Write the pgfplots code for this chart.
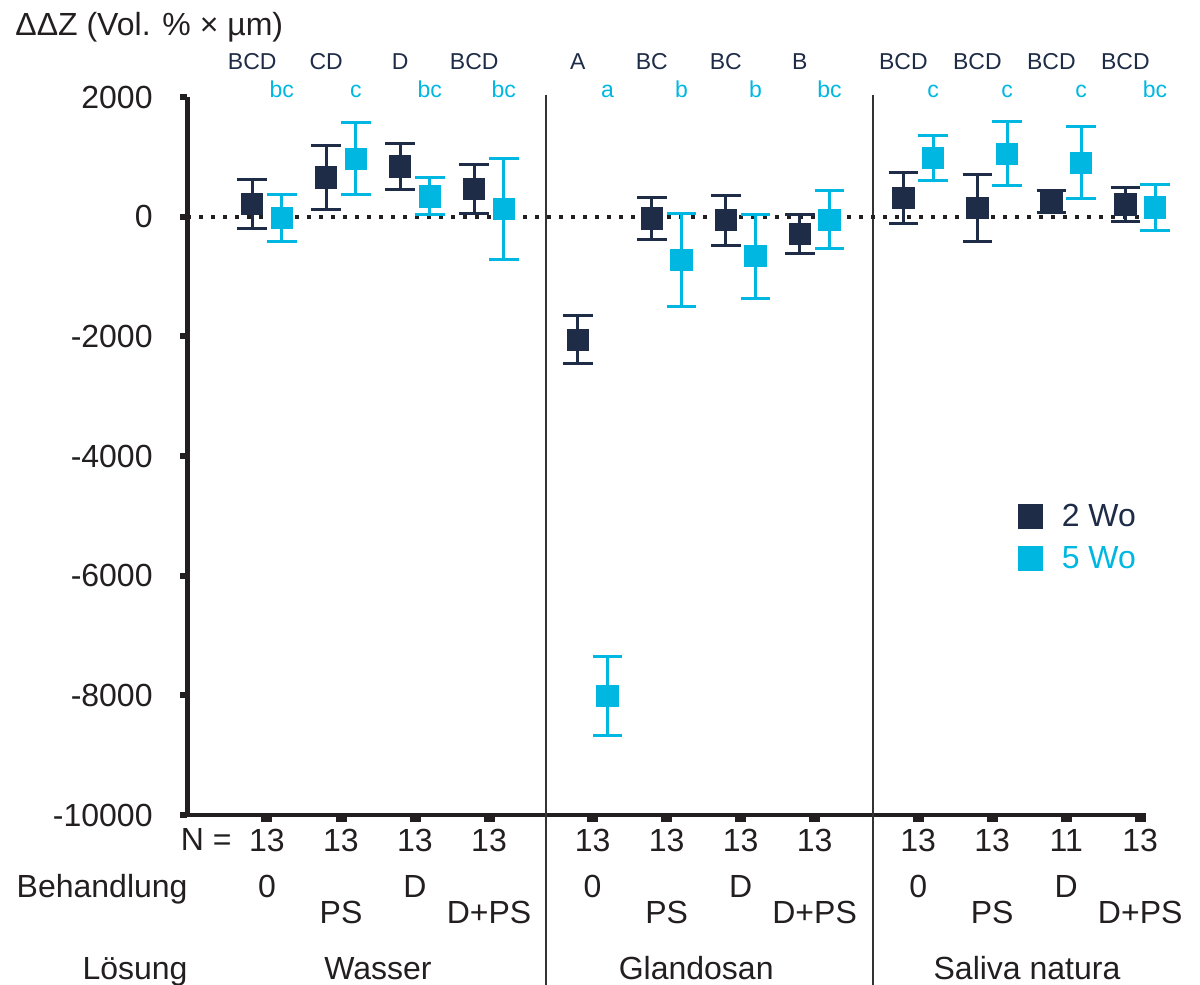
\documentclass[border=0pt]{standalone}
\usepackage{fontspec}
\setmainfont{Liberation Sans}
\usepackage{pgfplots}
\pgfplotsset{compat=1.18}
\definecolor{dk}{RGB}{30,44,72}
\definecolor{cy}{RGB}{0,183,226}
\definecolor{tx}{RGB}{35,31,32}
\newcommand{\bigf}{\fontsize{16}{19}\selectfont}
\newcommand{\smf}{\fontsize{11.5}{13}\selectfont}
\begin{document}
\begin{tikzpicture}
\useasboundingbox (0,0) rectangle (600pt,-492.5pt);
\begin{axis}[
  at={(93.5pt,-407.5pt)}, anchor=south west,
  scale only axis, width=479.5pt, height=359pt,
  xmin=-1.081, xmax=11.878, ymin=-10000, ymax=2000,
  clip=false, scaled y ticks=false,
  axis x line*=bottom, axis y line*=left,
  axis line style={-, tx},
  x axis line style={line width=2pt},
  y axis line style={line width=2.5pt},
  tick align=outside, major tick length=3.5pt,
  ytick={-10000,-8000,-6000,-4000,-2000,0,2000},
  yticklabels={-10000,-8000,-6000,-4000,-2000,0,2000},
  ytick style={line width=3pt, tx},
  xtick={0,1,2,3,4.4,5.4,6.4,7.4,8.8,9.8,10.8,11.8},
  xticklabels={13,13,13,13,13,13,13,13,13,13,11,13},
  xtick style={line width=5.5pt, tx},
  yticklabel style={font=\bigf, text=tx, inner sep=0pt, xshift=-13.5pt},
  xticklabel style={font=\bigf, text=tx, inner sep=0pt, anchor=north, yshift=-3.5pt},
  legend style={at={(axis cs:10.14,-4791)}, anchor=north west, draw=none, fill=none,
    font=\bigf, row sep=8.5pt, inner sep=0pt, nodes={inner sep=0pt}, column sep=0pt},
  legend cell align=left,
  legend image code/.code={\path[#1, draw=none, fill] (0pt,-6.2pt) rectangle (12.4pt,6.2pt);
     \path[draw=none, fill=none] (0pt,0pt) -- (22pt,0pt);},
]
% separators
\draw[line width=1pt, black!80] (axis cs:3.77,2040) -- (axis cs:3.77,-13000);
\draw[line width=1pt, black!80] (axis cs:8.19,2040) -- (axis cs:8.19,-13000);
% zero line
\addplot[forget plot, tx, line width=2pt, dash pattern=on 2pt off 4pt] coordinates {(-1.081,0) (11.878,0)};

\addplot[only marks, mark=square*, mark size=5.3pt, color=dk,
  error bars/y dir=both, error bars/y explicit,
  error bars/error bar style={line width=1.5pt, dk},
  error bars/error mark options={rotate=90, mark size=7.4pt, line width=1.5pt, dk}]
coordinates {
(-0.2,210) +- (0,405)
(0.8,655) +- (0,540)
(1.8,840) +- (0,390)
(2.8,465) +- (0,415)
(4.2,-2060) +- (0,400)
(5.2,-30) +- (0,357)
(6.2,-60) +- (0,420)
(7.2,-290) +- (0,330)
(8.6,310) +- (0,420)
(9.6,145) +- (0,555)
(10.6,255) +- (0,185)
(11.6,205) +- (0,285)
};
\addlegendentry[text=dk]{2 Wo}
\addplot[only marks, mark=square*, mark size=5.3pt, color=cy,
  error bars/y dir=both, error bars/y explicit,
  error bars/error bar style={line width=1.5pt, cy},
  error bars/error mark options={rotate=90, mark size=7.4pt, line width=1.5pt, cy}]
coordinates {
(0.2,-20) +- (0,390)
(1.2,970) +- (0,607)
(2.2,340) +- (0,310)
(3.2,130) +- (0,850)
(4.6,-8010) +- (0,667)
(5.6,-725) +- (0,775)
(6.6,-660) +- (0,700)
(7.6,-50) +- (0,480)
(9.0,980) +- (0,375)
(10.0,1055) +- (0,540)
(11.0,903) +- (0,607)
(12.0,156) +- (0,390)
};
\addlegendentry[text=cy]{5 Wo}

% title
\node[anchor=base west, text=tx, font=\bigf, inner sep=0pt] at (axis cs:-3.405,3027) {ΔΔZ (Vol. \% × µm)};
% significance letters
\begin{scope}[every node/.style={anchor=base, font=\smf, inner sep=0pt}]
\node[text=dk] at (axis cs:-0.2,2458) {BCD};
\node[text=dk] at (axis cs:0.8,2458) {CD};
\node[text=dk] at (axis cs:1.8,2458) {D};
\node[text=dk] at (axis cs:2.8,2458) {BCD};
\node[text=dk] at (axis cs:4.2,2458) {A};
\node[text=dk] at (axis cs:5.2,2458) {BC};
\node[text=dk] at (axis cs:6.2,2458) {BC};
\node[text=dk] at (axis cs:7.2,2458) {B};
\node[text=dk] at (axis cs:8.6,2458) {BCD};
\node[text=dk] at (axis cs:9.6,2458) {BCD};
\node[text=dk] at (axis cs:10.6,2458) {BCD};
\node[text=dk] at (axis cs:11.6,2458) {BCD};
\node[text=cy] at (axis cs:0.2,1990) {bc};
\node[text=cy] at (axis cs:1.2,1990) {c};
\node[text=cy] at (axis cs:2.2,1990) {bc};
\node[text=cy] at (axis cs:3.2,1990) {bc};
\node[text=cy] at (axis cs:4.6,1990) {a};
\node[text=cy] at (axis cs:5.6,1990) {b};
\node[text=cy] at (axis cs:6.6,1990) {b};
\node[text=cy] at (axis cs:7.6,1990) {bc};
\node[text=cy] at (axis cs:9.0,1990) {c};
\node[text=cy] at (axis cs:10.0,1990) {c};
\node[text=cy] at (axis cs:11.0,1990) {c};
\node[text=cy] at (axis cs:12.0,1990) {bc};
\end{scope}
% bottom labels
\begin{scope}[every node/.style={font=\bigf, text=tx, inner sep=0pt}]
\node[anchor=base east] at (axis cs:-0.473,-10600) {N =};
\node[anchor=base east] at (axis cs:-1.068,-11371) {Behandlung};
\node[anchor=base east] at (axis cs:-1.068,-12742) {Lösung};
\node[anchor=base] at (axis cs:0,-11371) {0};
\node[anchor=base] at (axis cs:4.4,-11371) {0};
\node[anchor=base] at (axis cs:8.8,-11371) {0};
\node[anchor=base] at (axis cs:2,-11371) {D};
\node[anchor=base] at (axis cs:6.4,-11371) {D};
\node[anchor=base] at (axis cs:10.8,-11371) {D};
\node[anchor=base] at (axis cs:1,-11806) {PS};
\node[anchor=base] at (axis cs:5.4,-11806) {PS};
\node[anchor=base] at (axis cs:9.8,-11806) {PS};
\node[anchor=base] at (axis cs:3,-11806) {D+PS};
\node[anchor=base] at (axis cs:7.4,-11806) {D+PS};
\node[anchor=base] at (axis cs:11.8,-11806) {D+PS};
\node[anchor=base] at (axis cs:1.5,-12742) {Wasser};
\node[anchor=base] at (axis cs:5.8,-12742) {Glandosan};
\node[anchor=base] at (axis cs:10.27,-12742) {Saliva natura};
\end{scope}
\end{axis}
\end{tikzpicture}
\end{document}
